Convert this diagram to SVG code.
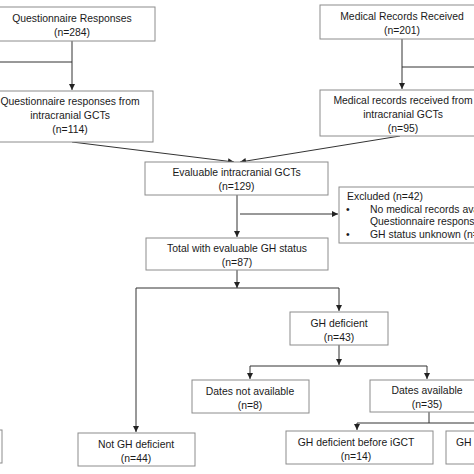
<svg xmlns="http://www.w3.org/2000/svg" width="474" height="474" viewBox="0 0 474 474">
<defs>
<marker id="ah" viewBox="0 0 6 6" refX="6" refY="3" markerWidth="6" markerHeight="6" markerUnits="userSpaceOnUse" orient="auto">
<path d="M0,0 L6,3 L0,6 z" fill="#222"/>
</marker>
</defs>
<style>
.box{fill:#fff;stroke:#8c8c8c;stroke-width:1}
.t{font-family:"Liberation Sans",Arial,sans-serif;font-size:10.4px;fill:#1a1a1a;text-anchor:middle}
.ts{font-family:"Liberation Sans",Arial,sans-serif;font-size:10.4px;fill:#1a1a1a}
.c{fill:none;stroke:#333;stroke-width:1}
.a{marker-end:url(#ah)}
</style>
<rect width="474" height="474" fill="#fff"/>
<g id="connectors">
<line class="c" x1="0" y1="62" x2="72" y2="62"/>
<line class="c a" x1="72" y1="41" x2="72" y2="90"/>
<line class="c" x1="402" y1="67" x2="474" y2="67"/>
<line class="c a" x1="402" y1="39" x2="402" y2="89"/>
<line class="c a" x1="72" y1="142" x2="234" y2="162"/>
<line class="c a" x1="400" y1="136" x2="240" y2="162"/>
<line class="c a" x1="237" y1="195" x2="237" y2="237"/>
<line class="c a" x1="240" y1="214" x2="338" y2="214"/>
<line class="c a" x1="237" y1="270" x2="237" y2="288"/>
<polyline class="c a" points="237,288 136,288 136,432"/>
<polyline class="c a" points="237,288 339,288 339,311"/>
<line class="c a" x1="339" y1="345" x2="339" y2="365"/>
<polyline class="c a" points="339,366 250,366 250,379"/>
<polyline class="c a" points="339,366 427,366 427,379"/>
<line class="c" x1="429" y1="412" x2="429" y2="423"/>
<polyline class="c a" points="480,423 357,423 357,430"/>
</g>
<g id="n-questionnaire">
<rect class="box" x="-11" y="7" width="166" height="34"/>
<text class="t" x="72" y="22">Questionnaire Responses</text>
<text class="t" x="72" y="36">(n=284)</text>
</g>
<g id="n-questionnaire-igct">
<rect class="box" x="-13" y="91" width="166" height="51"/>
<text class="t" x="70" y="105">Questionnaire responses from</text>
<text class="t" x="70" y="119">intracranial GCTs</text>
<text class="t" x="70" y="133">(n=114)</text>
</g>
<g id="n-medical">
<rect class="box" x="320" y="5" width="166" height="34"/>
<text class="t" x="402" y="20">Medical Records Received</text>
<text class="t" x="402" y="34">(n=201)</text>
</g>
<g id="n-medical-igct">
<rect class="box" x="320" y="90" width="166" height="46"/>
<text class="t" x="403" y="104">Medical records received from</text>
<text class="t" x="403" y="118">intracranial GCTs</text>
<text class="t" x="403" y="132">(n=95)</text>
</g>
<g id="n-evaluable">
<rect class="box" x="145" y="162" width="183" height="33"/>
<text class="t" x="236.5" y="176">Evaluable intracranial GCTs</text>
<text class="t" x="236.5" y="190">(n=129)</text>
</g>
<g id="n-excluded">
<rect class="box" x="339" y="187" width="150" height="56"/>
<text class="ts" x="347" y="200">Excluded (n=42)</text>
<text class="ts" x="346" y="213">•</text>
<text class="ts" x="370" y="213">No medical records available</text>
<text class="ts" x="370" y="225">Questionnaire responses</text>
<text class="ts" x="346" y="238">•</text>
<text class="ts" x="370" y="238">GH status unknown (n=</text>
</g>
<g id="n-total">
<rect class="box" x="146" y="238" width="182" height="32"/>
<text class="t" x="237" y="252">Total with evaluable GH status</text>
<text class="t" x="237" y="266">(n=87)</text>
</g>
<g id="n-ghdef">
<rect class="box" x="290" y="312" width="98" height="33"/>
<text class="t" x="339" y="327">GH deficient</text>
<text class="t" x="339" y="341">(n=43)</text>
</g>
<g id="n-dates-na">
<rect class="box" x="192" y="380" width="117" height="33"/>
<text class="t" x="250" y="395">Dates not available</text>
<text class="t" x="250" y="409">(n=8)</text>
</g>
<g id="n-dates-av">
<rect class="box" x="370" y="380" width="116" height="32"/>
<text class="t" x="427" y="394">Dates available</text>
<text class="t" x="427" y="408">(n=35)</text>
</g>
<g id="n-not-ghdef">
<rect class="box" x="78" y="433" width="117" height="33"/>
<text class="t" x="136" y="448">Not GH deficient</text>
<text class="t" x="136" y="462">(n=44)</text>
</g>
<g id="n-before">
<rect class="box" x="286" y="431" width="147" height="33"/>
<text class="t" x="356" y="446">GH deficient before iGCT</text>
<text class="t" x="356" y="460">(n=14)</text>
</g>
<g id="n-right">
<rect class="box" x="446" y="431" width="114" height="33"/>
<text class="ts" x="456" y="446">GH</text>
</g>
<g id="n-left">
<rect class="box" x="-60" y="430" width="62" height="33"/>
</g>
</svg>
